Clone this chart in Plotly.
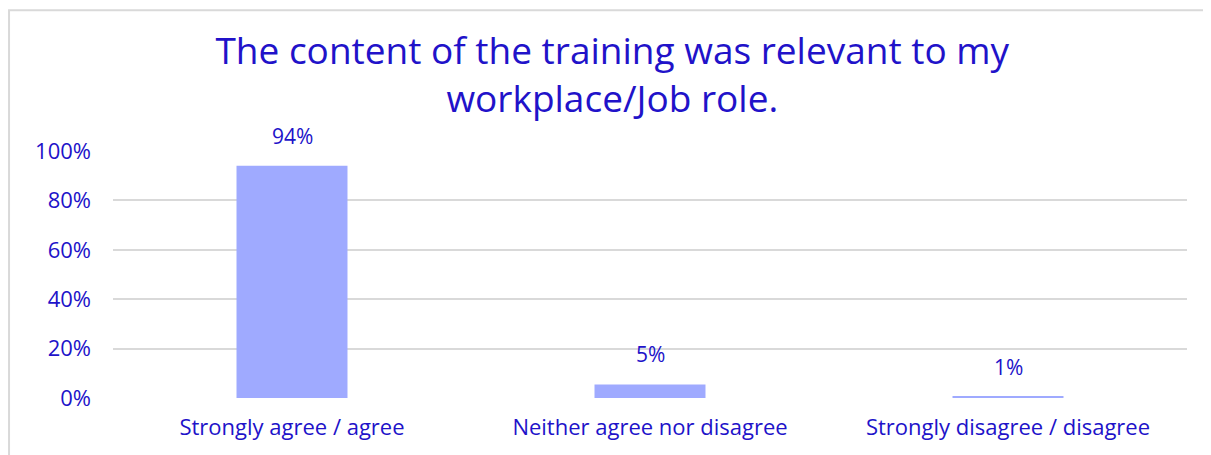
import plotly.graph_objects as go

categorias = ["Strongly agree / agree", "Neither agree nor disagree", "Strongly disagree / disagree"]
valores = [0.94, 0.055, 0.006]
rotulos = ["94%", "5%", "1%"]
ticks_y = [0, 0.2, 0.4, 0.6, 0.8, 1.0]
ticks_y_txt = ["0%", "20%", "40%", "60%", "80%", "100%"]

azul = "#2112c9"
fonte = "Open Sans"

fig = go.Figure()
fig.add_trace(go.Bar(
    x=categorias,
    y=valores,
    marker=dict(color="#9faaff", line=dict(width=0)),
    width=0.31,
    hoverinfo="skip",
))

# rótulos de dados acima das barras
for cat, v, txt in zip(categorias, valores, rotulos):
    fig.add_annotation(
        x=cat, y=v, text=txt, showarrow=False,
        yanchor="bottom", yshift=14,
        font=dict(family=fonte, size=21, color=azul),
    )

# moldura cinza
fig.add_shape(
    type="rect", xref="paper", yref="paper",
    x0=-0.0968, x1=1.2, y0=-0.6, y1=1.57,
    line=dict(color="#d9d9d9", width=2), fillcolor="rgba(0,0,0,0)",
    layer="below",
)

fig.update_layout(
    width=1211, height=455,
    margin=dict(l=105, r=32, t=143, b=65),
    paper_bgcolor="white",
    plot_bgcolor="white",
    showlegend=False,
    title=dict(
        text="The content of the training was relevant to my<br>workplace/Job role.",
        x=0.499, xanchor="center", y=0.878, yanchor="middle",
        font=dict(family=fonte, size=37, color=azul),
    ),
    font=dict(family=fonte, color=azul),
)

fig.update_yaxes(
    range=[0, 1.0],
    tickvals=ticks_y, ticktext=ticks_y_txt,
    tickfont=dict(family=fonte, size=22, color=azul),
    showgrid=True, gridcolor="#d9d9d9", gridwidth=2,
    zeroline=False, showline=False,
    ticklabelstandoff=21,
)
fig.update_xaxes(
    tickfont=dict(family=fonte, size=22, color=azul),
    showgrid=False, zeroline=False, showline=False,
    ticklabelstandoff=14,
)

fig.write_html("out.html")
